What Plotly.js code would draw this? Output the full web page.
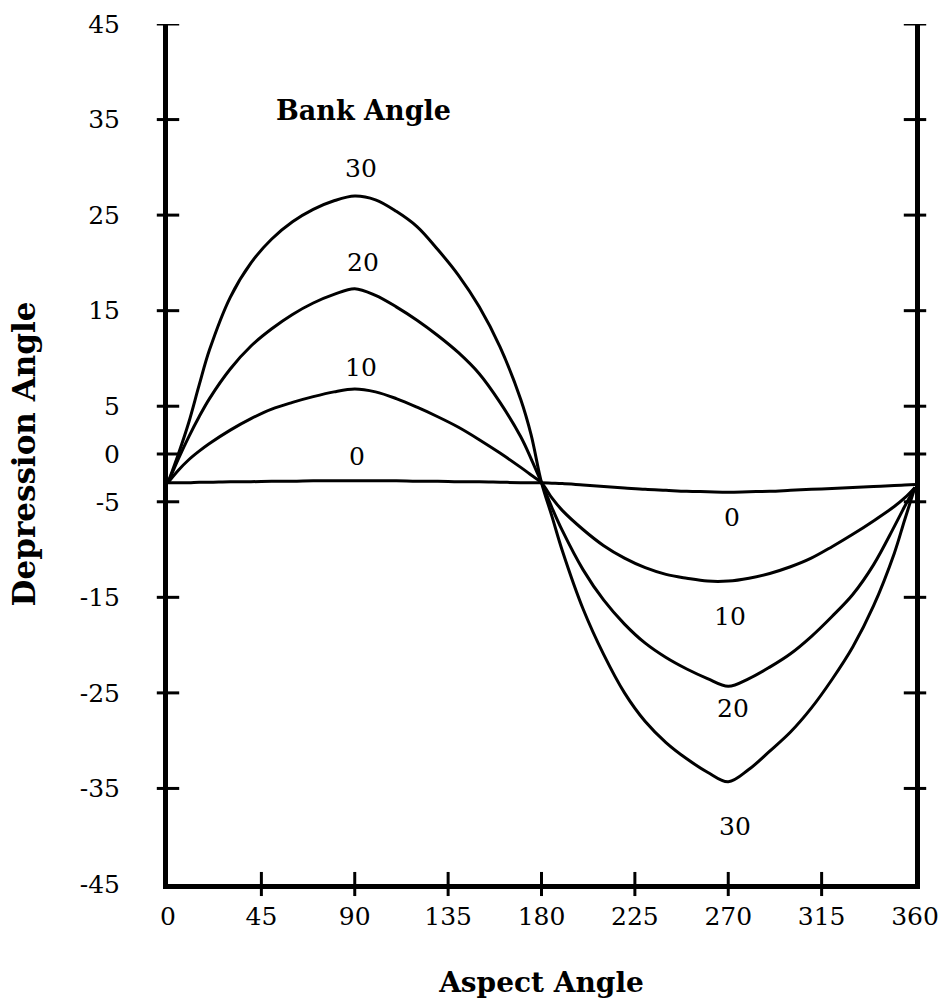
<!DOCTYPE html>
<html>
<head>
<meta charset="utf-8">
<script src="https://cdn.plot.ly/plotly-3.0.1.min.js"></script>
<style>
  html, body { margin: 0; padding: 0; background: #ffffff; }
  #chart { width: 942px; height: 1008px; }
</style>
</head>
<body>
<div id="chart"></div>
<script>
// Aspect angle samples (degrees)
const aspect = [0,5,10,15,20,30,40,50,60,70,80,90,100,110,120,130,140,150,160,170,175,180,
                185,190,200,210,220,230,240,250,260,270,280,290,300,310,320,330,340,350,355,360];

// Depression angle for each bank angle
const bank0  = [-3.0,-3.0,-3.0,-2.95,-2.95,-2.9,-2.9,-2.85,-2.85,-2.8,-2.8,-2.8,-2.8,-2.8,-2.85,-2.85,-2.9,-2.9,-2.95,-3.0,-3.0,-3.0,
                -3.05,-3.1,-3.25,-3.4,-3.55,-3.7,-3.8,-3.9,-3.95,-4.0,-3.95,-3.9,-3.8,-3.7,-3.6,-3.5,-3.4,-3.3,-3.25,-3.2];
const bank10 = [-3.0,-1.7,-0.6,0.3,1.1,2.5,3.7,4.7,5.4,6.0,6.5,6.8,6.5,5.8,4.9,3.9,2.8,1.5,0.1,-1.4,-2.2,-3.0,
                -4.6,-5.9,-7.9,-9.6,-10.9,-11.9,-12.6,-13.0,-13.3,-13.3,-13.0,-12.5,-11.8,-10.9,-9.7,-8.4,-7.0,-5.5,-4.6,-3.5];
const bank20 = [-3.0,-0.5,1.8,3.9,5.8,8.9,11.3,13.1,14.6,15.8,16.7,17.3,16.6,15.4,14.0,12.4,10.6,8.4,5.4,1.8,-0.5,-3.0,
                -5.6,-8.0,-12.1,-15.3,-17.8,-19.8,-21.3,-22.5,-23.5,-24.3,-23.5,-22.3,-20.9,-19.1,-17.0,-14.7,-11.6,-7.6,-5.5,-3.5];
const bank30 = [-3.0,0.0,3.3,7.2,10.9,16.4,20.0,22.5,24.3,25.6,26.5,27.0,26.6,25.4,23.8,21.4,18.7,15.4,11.2,5.7,2.0,-3.0,
                -6.5,-10.1,-16.2,-21.0,-25.0,-28.0,-30.2,-31.9,-33.3,-34.3,-33.0,-31.1,-29.1,-26.6,-23.6,-20.2,-15.9,-10.4,-6.9,-3.5];

// Axis ticks
const xTicks = [0,45,90,135,180,225,270,315,360];
const xTickText = ["0","45","90","135","180","225","270","315","360"];
const xCrossTicks = [45,90,135,180,225,270,315];
const yTicks = [45,35,25,15,5,0,-5,-15,-25,-35,-45];
const yTickText = ["45","35","25","15","5","0","-5","-15","-25","-35","-45"];
const yCrossTicks = [45,35,25,15,5,0,-5,-15,-25,-35];

// Curve labels
const upperLabels = ["30","20","10","0"];
const upperLabelX = [93,93.8,93,91];
const upperLabelY = [29.9,20.0,9.1,-0.3];
const lowerLabels = ["0","10","20","30"];
const lowerLabelX = [271.6,270.8,272.4,273.3];
const lowerLabelY = [-6.6,-17.0,-26.6,-39.0];

const series = [bank0, bank10, bank20, bank30];
const names = ["0","10","20","30"];

const traces = series.map((s, i) => ({
  x: aspect, y: s, type: 'scatter', mode: 'lines', name: names[i],
  line: {color: '#000000', width: 3, shape: 'spline', smoothing: 1.0},
  showlegend: false, hoverinfo: 'skip'
}));

const shapes = [];
xCrossTicks.forEach(v => {
  shapes.push({type:'line', xref:'x', yref:'paper', x0:v, x1:v, y0:-0.014, y1:0.014,
               line:{color:'#000', width:3}});
});
yCrossTicks.forEach(v => {
  shapes.push({type:'line', xref:'paper', yref:'y', x0:-0.015, x1:0.015, y0:v, y1:v,
               line:{color:'#000', width:3}});
  shapes.push({type:'line', xref:'paper', yref:'y', x0:0.985, x1:1.015, y0:v, y1:v,
               line:{color:'#000', width:3}});
});

const annFont = {family: 'DejaVu Serif, serif', size: 25, color: '#000'};
const annotations = [];
upperLabels.forEach((t, i) => annotations.push({x: upperLabelX[i], y: upperLabelY[i], xref:'x', yref:'y',
  text: t, showarrow: false, font: annFont}));
lowerLabels.forEach((t, i) => annotations.push({x: lowerLabelX[i], y: lowerLabelY[i], xref:'x', yref:'y',
  text: t, showarrow: false, font: annFont}));
annotations.push({x: 94, y: 36.0, xref:'x', yref:'y', text: 'Bank Angle', showarrow: false,
  font: {family: 'DejaVu Serif, serif', size: 27, color: '#000', weight: 'bold'}});

const layout = {
  width: 942, height: 1008,
  paper_bgcolor: '#ffffff', plot_bgcolor: '#ffffff',
  margin: {l: 168, r: 27, t: 24, b: 124},
  showlegend: false,
  font: {family: 'DejaVu Serif, serif', color: '#000'},
  xaxis: {
    range: [0, 360], tickvals: xTicks, ticktext: xTickText,
    showgrid: false, zeroline: false, showline: true, linecolor: '#000', linewidth: 5,
    ticks: '', ticklabelstandoff: 6,
    tickfont: {family: 'DejaVu Serif, serif', size: 25, color: '#000'},
    title: {text: 'Aspect Angle', standoff: 44,
            font: {family: 'DejaVu Serif, serif', size: 28, color: '#000', weight: 'bold'}},
    fixedrange: true
  },
  yaxis: {
    range: [-45, 45], tickvals: yTicks, ticktext: yTickText,
    showgrid: false, zeroline: false, showline: true, linecolor: '#000', linewidth: 5,
    mirror: true,
    ticks: '', ticklabelstandoff: 38,
    tickfont: {family: 'DejaVu Serif, serif', size: 25, color: '#000'},
    title: {text: 'Depression Angle', standoff: 36,
            font: {family: 'DejaVu Serif, serif', size: 31, color: '#000', weight: 'bold'}},
    fixedrange: true
  },
  shapes: shapes,
  annotations: annotations
};

Plotly.newPlot('chart', traces, layout, {displayModeBar: false, staticPlot: true});
</script>
</body>
</html>
